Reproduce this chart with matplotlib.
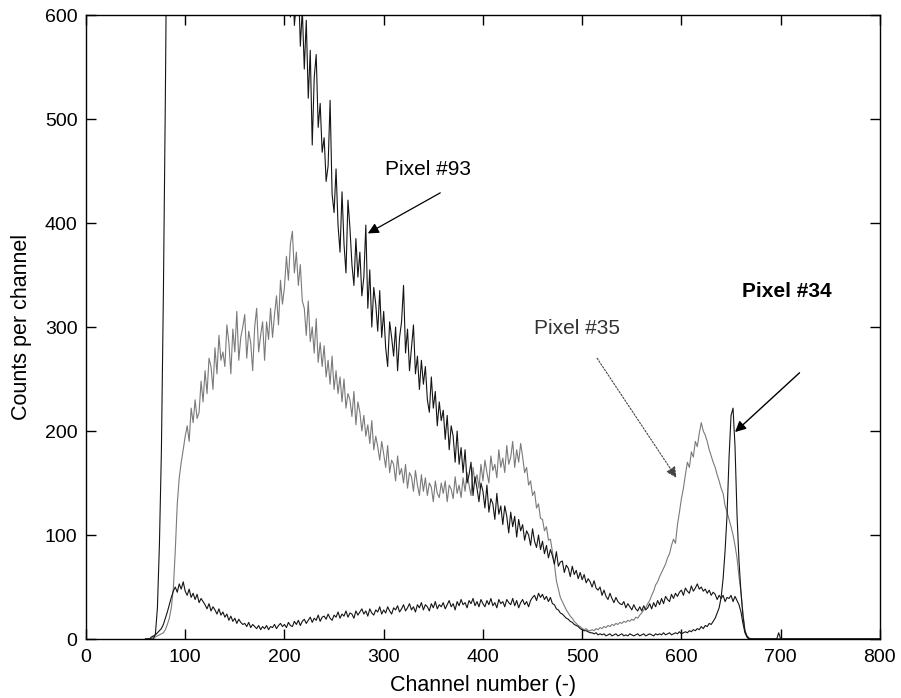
import numpy as np
import matplotlib
matplotlib.use("Agg")
import matplotlib.pyplot as plt

plt.rcParams['font.family'] = ['Liberation Sans', 'DejaVu Sans']

# channel grid: every 2nd channel from 60 to 698, then 700 and the end of the range
channels = np.concatenate([np.arange(60, 700, 2), [700, 800]])

pixel93 = [
    0, 0, 0, 0, 0, 5, 30, 90, 180, 330,
    520, 750, 1000, 1200, 1350, 1450, 1550, 1600, 1650, 1680,
    1700, 1700, 1690, 1680, 1670, 1660, 1650, 1640, 1630, 1620,
    1600, 1580, 1560, 1540, 1520, 1500, 1480, 1460, 1440, 1420,
    1400, 1370, 1340, 1310, 1280, 1250, 1220, 1190, 1160, 1130,
    1100, 1070, 1040, 1010, 980, 950, 920, 890, 860, 830,
    800, 780, 760, 740, 720, 700, 680, 660, 640, 610,
    660, 615, 640, 598, 652, 590, 612, 635, 570, 605,
    548, 595, 520, 566, 475, 540, 562, 492, 515, 468,
    482, 440, 455, 518, 428, 410, 452, 398, 372, 430,
    380, 352, 422, 395, 360, 340, 385, 348, 372, 330,
    348, 398, 318, 355, 300, 338, 322, 296, 335, 290,
    315, 280, 262, 305, 290, 272, 300, 258, 290, 305,
    340, 275, 298, 258, 280, 302, 255, 272, 240, 268,
    245, 262, 230, 218, 252, 222, 238, 205, 228, 210,
    220, 192, 215, 182, 205, 195, 170, 200, 168, 184,
    160, 182, 150, 158, 170, 138, 156, 145, 132, 150,
    142, 126, 148, 122, 135, 130, 115, 140, 120, 128,
    110, 128, 118, 102, 122, 108, 118, 98, 115, 104,
    110, 95, 104, 100, 90, 106, 94, 88, 100, 86,
    94, 82, 90, 78, 86, 80, 72, 84, 70, 74,
    75, 64, 71, 68, 60, 70, 62, 66, 58, 64,
    57, 62, 54, 58, 55, 50, 56, 49, 47, 50,
    42, 47, 41, 38, 44, 39, 35, 40, 36, 34,
    33, 36, 30, 34, 31, 28, 33, 29, 27, 31,
    27, 32, 28, 30, 34, 29, 35, 31, 37, 33,
    39, 34, 41, 38, 36, 43, 39, 44, 41, 45,
    47, 42, 49, 46, 44, 51, 46, 49, 53, 48,
    50, 46, 48, 44, 47, 42, 45, 43, 38, 42,
    39, 42, 36, 40, 39, 42, 36, 41, 37, 33,
    26, 15, 6, 2, 0, 0, 0, 0, 0, 0,
    0, 0, 0, 0, 0, 0, 0, 0, 0, 0,
    0, 0,
]

pixel35 = [
    0, 0, 0, 1, 2, 2, 3, 4, 5, 6,
    9, 14, 20, 30, 48, 85, 130, 155, 170, 182,
    195, 205, 190, 222, 208, 230, 212, 218, 248, 228,
    258, 236, 270, 262, 240, 280, 255, 292, 268, 276,
    262, 302, 285, 255, 298, 276, 315, 268, 290, 300,
    312, 270, 296, 285, 258, 300, 318, 276, 292, 305,
    268, 305, 288, 318, 290, 312, 330, 302, 345, 322,
    338, 368, 345, 380, 392, 352, 372, 340, 360, 325,
    318, 292, 325, 286, 300, 275, 308, 266, 285, 262,
    282, 252, 268, 245, 272, 240, 258, 236, 252, 228,
    250, 222, 236, 230, 214, 238, 206, 228, 218, 200,
    215, 195, 206, 188, 210, 182, 195, 185, 172, 190,
    178, 165, 186, 160, 172, 168, 152, 176, 158, 164,
    150, 168, 145, 160, 156, 142, 162, 148, 138, 158,
    142, 155, 138, 150, 146, 132, 152, 140, 136, 150,
    140, 152, 132, 148, 144, 135, 156, 140, 148, 136,
    155, 142, 160, 148, 138, 165, 150, 158, 145, 168,
    152, 172, 160, 150, 176, 162, 168, 155, 182, 165,
    174, 160, 186, 168, 175, 190, 165, 182, 170, 188,
    175, 160, 165, 148, 152, 138, 142, 126, 130, 116,
    115, 104, 108, 95, 96, 84, 72, 56, 48, 40,
    36, 32, 28, 25, 22, 20, 17, 15, 13, 12,
    10, 9, 10, 8, 8, 9, 8, 10, 9, 11,
    10, 12, 11, 13, 12, 14, 13, 15, 14, 16,
    15, 17, 16, 18, 17, 19, 18, 21, 20, 23,
    25, 28, 30, 34, 37, 42, 46, 52, 55, 60,
    64, 68, 72, 78, 82, 90, 96, 92, 110, 122,
    135, 145, 158, 170, 165, 180, 175, 190, 185, 198,
    208, 200, 196, 190, 182, 176, 170, 165, 158, 152,
    145, 140, 128, 122, 115, 108, 100, 90, 78, 60,
    45, 25, 8, 2, 0, 0, 0, 0, 0, 0,
    0, 0, 0, 0, 0, 0, 0, 0, 0, 0,
    0, 0,
]

pixel34 = [
    0, 0, 0, 2, 3, 4, 6, 8, 10, 14,
    20, 26, 33, 40, 46, 50, 45, 53, 48, 55,
    46, 42, 48, 40, 44, 38, 43, 35, 39, 36,
    33, 29, 34, 27, 31, 28, 24, 29, 23, 26,
    21, 24, 18, 22, 17, 20, 15, 19, 16, 14,
    15, 12, 16, 11, 14, 12, 10, 13, 9, 12,
    10, 13, 9, 12, 11, 14, 10, 13, 15, 12,
    14, 11, 16, 13, 12, 17, 14, 18, 13, 17,
    19, 15, 18, 21, 16, 20, 18, 23, 17, 21,
    22, 19, 24, 20, 18, 23, 21, 26, 20, 24,
    22, 27, 21, 25, 24, 20, 27, 23, 26, 29,
    24, 27, 22, 29, 25, 23, 28, 26, 31, 24,
    28, 25, 31, 27, 24, 30, 28, 32, 26, 29,
    33, 27, 30, 34, 28, 31, 26, 33, 30, 35,
    28, 33, 31, 27, 34, 30, 36, 29, 33, 31,
    35, 29, 33, 37, 31, 34, 28, 36, 32, 38,
    33, 35, 30, 37, 34, 39, 32, 36, 31, 38,
    34, 31, 37, 33, 39, 32, 35, 30, 38, 34,
    36, 31, 38, 35, 33, 39, 32, 37, 30, 35,
    38, 33, 36, 31, 37, 40, 42, 37, 44, 40,
    43, 38, 41, 36, 40, 34, 33, 29, 28, 25,
    24, 22, 20, 19, 17, 16, 14, 13, 12, 10,
    9, 8, 8, 7, 6, 6, 5, 6, 4, 5,
    4, 5, 3, 4, 5, 3, 4, 5, 3, 4,
    5, 3, 4, 3, 5, 4, 3, 4, 5, 3,
    4, 5, 3, 4, 5, 4, 3, 5, 4, 5,
    4, 6, 4, 5, 6, 4, 5, 6, 5, 7,
    5, 6, 7, 6, 8, 7, 9, 8, 10, 9,
    12, 10, 13, 12, 15, 14, 17, 20, 25, 30,
    40, 58, 85, 120, 175, 215, 222, 185, 120, 75,
    45, 22, 8, 3, 1, 0, 0, 0, 0, 0,
    0, 0, 0, 0, 0, 0, 0, 0, 0, 6,
    0, 0,
]

x_ticks = [0, 100, 200, 300, 400, 500, 600, 700, 800]
y_ticks = [0, 100, 200, 300, 400, 500, 600]

fig = plt.figure(figsize=(9.01, 6.98), dpi=100)
ax = fig.add_axes([0.0954, 0.0845, 0.8812, 0.894])

ax.plot(channels, pixel35, color='#7a7a7a', lw=0.8)
ax.plot(channels, pixel93, color='#151515', lw=0.8)
ax.plot(channels, pixel34, color='#151515', lw=0.8)

ax.set_xlim(0, 800)
ax.set_ylim(0, 600)
ax.set_xticks(x_ticks)
ax.set_yticks(y_ticks)
ax.tick_params(direction='in', length=7, width=1, top=True, right=True,
               labelsize=14, colors='black')
ax.tick_params(axis='x', pad=7)
ax.tick_params(axis='y', pad=6)
for s in ax.spines.values():
    s.set_linewidth(1.0)

ax.set_xlabel('Channel number (-)', fontsize=15.5, labelpad=7)
ax.set_ylabel('Counts per channel', fontsize=15.5, labelpad=9)

# annotations
ax.text(345, 451, 'Pixel #93', fontsize=15, ha='center', va='center')
ax.annotate('', xy=(284, 390), xytext=(357, 429),
            arrowprops=dict(arrowstyle='-|>', color='black', lw=0.9,
                            mutation_scale=16, shrinkA=0, shrinkB=0))

ax.text(495, 299, 'Pixel #35', fontsize=15, ha='center', va='center', color='#333333')
ax.annotate('', xy=(595, 155), xytext=(515, 270),
            arrowprops=dict(arrowstyle='-|>', color='#444444', lw=0.8,
                            linestyle=(0, (1.5, 1.5)),
                            mutation_scale=16, shrinkA=0, shrinkB=0))

ax.text(706, 334, 'Pixel #34', fontsize=15, ha='center', va='center',
        fontweight='bold')
ax.annotate('', xy=(654, 199), xytext=(719, 256),
            arrowprops=dict(arrowstyle='-|>', color='black', lw=1.0,
                            mutation_scale=16, shrinkA=0, shrinkB=0))

fig.savefig('out.png', dpi=100)
